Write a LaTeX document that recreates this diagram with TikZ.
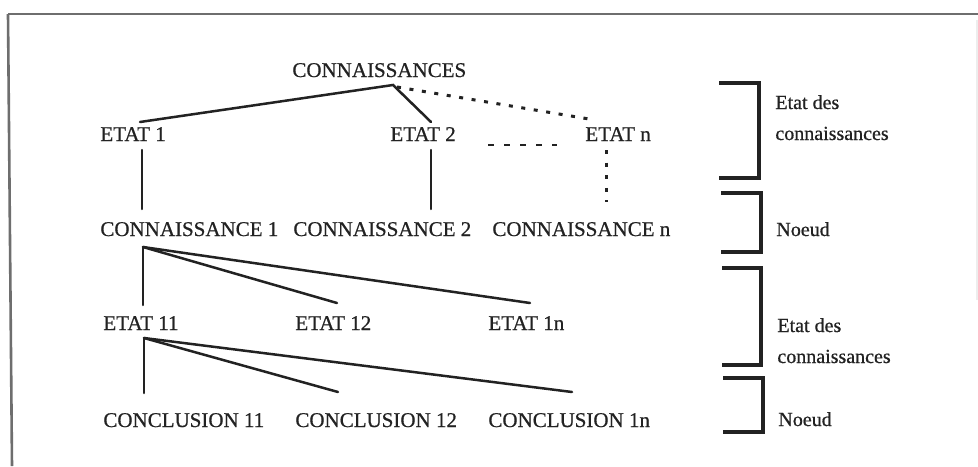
\documentclass[tikz,border=0pt]{standalone}
\usepackage{fontspec}
\setmainfont{Liberation Serif}[FakeBold=0.7]
\usetikzlibrary{calc}

\definecolor{ink}{HTML}{222222}
\definecolor{frame}{HTML}{6E6E6E}

\tikzset{
  lbl/.style={anchor=base west, inner sep=0pt, text=ink,
              font=\fontsize{10.5}{12}\selectfont},
  side/.style={lbl, font=\fontsize{10}{12}\selectfont},
  branch/.style={draw=ink, line width=1.25pt, line cap=round},
  dotline/.style={draw=ink, line width=1.5pt, line cap=butt,
                  dash pattern=on 2pt off 4.3pt},
  dashline/.style={draw=ink, line width=1.3pt, line cap=butt,
                   dash pattern=on 3pt off 5pt},
  brace/.style={draw=ink, line width=2pt, line join=miter},
}

\begin{document}
\begin{tikzpicture}[x=0.5pt, y=-0.5pt]
  % page area
  \useasboundingbox (0,0) rectangle (978,466);
  \fill[white] (0,0) rectangle (978,466);

  % outer frame (top and left edges, faint right edge)
  \draw[frame, line width=1.3pt] (8,14) -- (978,14);
  \draw[frame, line width=1.3pt] (8,14) -- (12,466);
  \draw[black!7, line width=0.6pt] (977,20) -- (977,300);

  % tree labels
  \node[lbl] (c0)  at (292,77)  {CONNAISSANCES};
  \node[lbl] (e1)  at (100,141) {ETAT 1};
  \node[lbl] (e2)  at (390,141) {ETAT 2};
  \node[lbl] (en)  at (585,141) {ETAT n};
  \node[lbl] (k1)  at (100,236) {CONNAISSANCE 1};
  \node[lbl] (k2)  at (293,236) {CONNAISSANCE 2};
  \node[lbl] (kn)  at (492,236) {CONNAISSANCE n};
  \node[lbl] (e11) at (103,330) {ETAT 11};
  \node[lbl] (e12) at (295,330) {ETAT 12};
  \node[lbl] (e1n) at (488,330) {ETAT 1n};
  \node[lbl] (c11) at (103,427) {CONCLUSION 11};
  \node[lbl] (c12) at (295,427) {CONCLUSION 12};
  \node[lbl] (c1n) at (488,427) {CONCLUSION 1n};

  % attachment points of the branches
  \coordinate (c0foot)  at ($(c0.base west)+(101,8)$);
  \coordinate (c0foot2) at ($(c0.base west)+(105,10)$);
  \coordinate (e1top)   at ($(e1.base west)+(40,-19)$);
  \coordinate (e2top)   at ($(e2.base west)+(41,-19)$);
  \coordinate (entop)   at ($(en.base west)+(10,-21)$);
  \coordinate (e1foot)  at ($(e1.base west)+(42,9)$);
  \coordinate (e2foot)  at ($(e2.base west)+(41,9)$);
  \coordinate (enfoot)  at ($(en.base west)+(21,9)$);
  \coordinate (e2side)  at ($(e2.base west)+(98,4)$);
  \coordinate (enside)  at ($(en.base west)+(-28,4)$);
  \coordinate (k1top)   at ($(k1.base west)+(42,-27)$);
  \coordinate (k2top)   at ($(k2.base west)+(138,-27)$);
  \coordinate (kntop)   at ($(kn.base west)+(114,-34)$);
  \coordinate (k1foot)  at ($(k1.base west)+(43,11)$);
  \coordinate (e11top)  at ($(e11.base west)+(40,-25)$);
  \coordinate (e12top)  at ($(e12.base west)+(42,-27)$);
  \coordinate (e1ntop)  at ($(e1n.base west)+(42,-27)$);
  \coordinate (e11foot) at ($(e11.base west)+(41,8)$);
  \coordinate (c11top)  at ($(c11.base west)+(41,-34)$);
  \coordinate (c12top)  at ($(c12.base west)+(43,-35)$);
  \coordinate (c1ntop)  at ($(c1n.base west)+(84,-35)$);

  % first level
  \draw[branch] (e1top) -- (c0foot) -- (e2top);
  \draw[dotline] (c0foot2) -- (entop);
  \draw[dashline] (e2side) -- (enside);

  % second level
  \draw[branch] (e1foot) -- (k1top);
  \draw[branch] (e2foot) -- (k2top);
  \draw[dotline] (enfoot) -- (kntop);

  % third level
  \draw[branch] (k1foot) -- (e11top);
  \draw[branch] (k1foot) -- (e12top);
  \draw[branch] (k1foot) -- (e1ntop);

  % fourth level
  \draw[branch] (e11foot) -- (c11top);
  \draw[branch] (e11foot) -- (c12top);
  \draw[branch] (e11foot) -- (c1ntop);

  % level brackets
  \draw[brace] (719,83)  -- (759,83)  -- (759,178) -- (719,178);
  \draw[brace] (721,193) -- (761,193) -- (761,252) -- (721,252);
  \draw[brace] (722,268) -- (761,268) -- (761,365) -- (722,365);
  \draw[brace] (723,378) -- (763,378) -- (763,432) -- (723,432);

  % level names
  \node[side] (s1a) at (775,109) {Etat des};
  \node[side] (s1b) at (775,140) {connaissances};
  \node[side] (s2)  at (776,236) {Noeud};
  \node[side] (s3a) at (777,332) {Etat des};
  \node[side] (s3b) at (777,363) {connaissances};
  \node[side] (s4)  at (778,426) {Noeud};
\end{tikzpicture}
\end{document}
